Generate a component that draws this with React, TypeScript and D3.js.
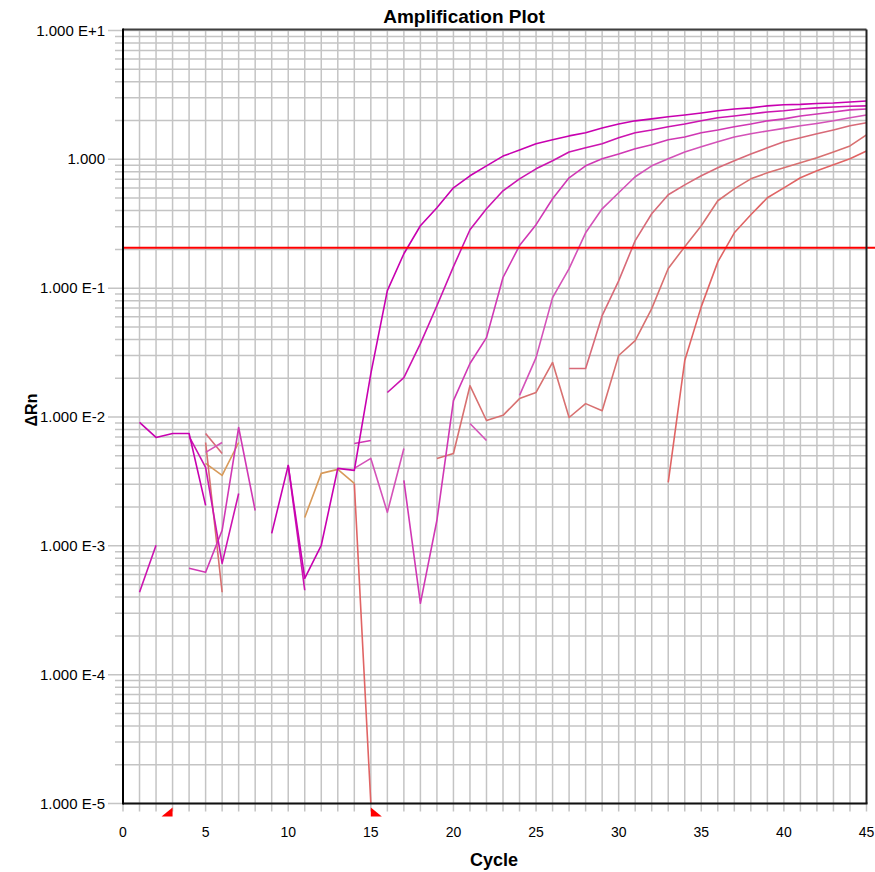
import React from 'react';
import * as d3 from 'd3';

const _ = null;

// cycles 1..45
const cycles: number[] = d3.range(1, 46);

const s1 = [0.00907,0.00694,0.00745,0.00745,0.00206,_,_,_,0.00125,0.00421,
  0.00056,0.00101,0.00399,0.00385,0.0217,0.0956,0.185,0.305,0.421,0.601,
  0.745,0.890,1.06,1.18,1.32,1.42,1.52,1.61,1.75,1.88,
  1.99,2.06,2.14,2.21,2.29,2.38,2.46,2.51,2.60,2.65,
  2.67,2.71,2.74,2.79,2.84];
const s2 = [0.000436,0.00101,_,0.00706,0.00406,0.000731,0.00255,_,_,0.00421,
  0.000452,_,_,_,_,0.0155,0.0202,0.0371,0.0731,0.147,
  0.284,0.413,0.570,0.706,0.844,0.974,1.14,1.23,1.32,1.47,
  1.61,1.69,1.79,1.88,1.99,2.10,2.17,2.25,2.33,2.38,
  2.46,2.51,2.55,2.58,2.60];
const s3 = [_,_,_,0.000669,0.000623,0.00132,0.00829,0.00188,_,_,
  _,_,_,0.00623,0.00657,_,0.00322,0.000358,0.00158,0.0134,
  0.0260,0.0413,0.121,0.214,0.311,0.494,0.719,0.890,1.01,1.10,
  1.21,1.30,1.42,1.49,1.61,1.69,1.79,1.88,1.99,2.06,
  2.17,2.25,2.33,2.42,2.46];
const s4 = [_,_,_,_,0.00531,0.00634,_,_,_,_,
  _,_,_,0.00399,0.00477,0.00182,0.00570,_,_,_,
  0.00891,0.00657,_,0.0147,0.0289,0.0844,0.142,0.269,0.413,0.550,
  0.732,0.890,1.01,1.14,1.25,1.37,1.49,1.58,1.66,1.74,
  1.82,1.90,1.99,2.10,2.21];
const s5 = [_,_,_,_,0.00745,0.00521,_,_,_,_,
  _,_,_,_,_,_,_,_,_,_,
  _,_,_,_,_,_,0.0238,0.0238,0.0612,0.114,
  0.234,0.378,0.531,0.634,0.745,0.859,0.974,1.10,1.23,1.37,
  1.47,1.58,1.69,1.82,1.92];
const s6 = [_,_,_,_,0.00634,0.000436,_,_,_,_,
  _,_,_,_,_,_,_,_,0.00477,0.00521,
  0.0175,0.00939,0.0103,0.0139,0.0155,0.0265,0.00991,0.0127,0.0112,0.0300,
  0.0392,0.0694,0.142,0.210,0.305,0.477,0.590,0.706,0.786,0.859,
  0.939,1.03,1.14,1.27,1.55];
const s7 = [_,_,_,_,_,_,_,_,_,_,
  _,_,_,0.00305,0.00001,_,_,_,_,_,
  _,_,_,_,_,_,_,_,_,_,
  _,_,0.00311,0.0274,0.0719,0.160,0.269,0.371,0.503,0.601,
  0.719,0.815,0.906,1.01,1.16];
const s8 = [_,_,_,_,0.00436,0.00352,0.00634,_,_,_,
  0.00166,0.00365,0.00392,0.00305,_,_,_,_,_,_,
  _,_,_,_,_,_,_,_,_,_,
  _,_,_,_,_,_,_,_,_,_,
  _,_,_,_,_];

const seriesList = [s8, s7, s6, s5, s4, s3, s2, s1];
const seriesColors = ['#d89a5a', '#e06464', '#d87070', '#d86a78', '#d452b8', '#d038b4', '#cc14b0', '#c800b0'];

const threshold = 0.206;
const yTickValues = [1e-5, 1e-4, 1e-3, 1e-2, 1e-1, 1, 10];
const yTickLabels = ['1.000 E-5', '1.000 E-4', '1.000 E-3', '1.000 E-2', '1.000 E-1', '1.000', '1.000 E+1'];
const xTickValues = [0, 5, 10, 15, 20, 25, 30, 35, 40, 45];
const startCycle = 3;
const endCycle = 15;

const FONT = 'Liberation Sans, Arial, Helvetica, sans-serif';

export default function App() {
  const X0 = 123, X1 = 866.5, YT = 30.5, YB = 803.5;
  const x = d3.scaleLinear().domain([0, 45]).range([X0, X1]);
  const y = d3.scaleLog().domain([1e-5, 10]).range([YB, YT]);

  const minorVals: { v: number; major: boolean }[] = [];
  for (let k = -5; k <= 0; k++) {
    for (let m = 1; m <= 9; m++) minorVals.push({ v: m * Math.pow(10, k), major: m === 1 });
  }
  minorVals.push({ v: 10, major: true });

  const line = d3.line<number | null>()
    .defined((d) => d != null)
    .x((_d, i) => x(cycles[i]))
    .y((d) => y(d as number));

  const gridColor = '#c4c4c4';

  return (
    <svg width={875} height={872} style={{ position: 'absolute', left: 0, top: 0, background: '#fff' }}
      xmlns="http://www.w3.org/2000/svg">
      <rect x={0} y={0} width={875} height={872} fill="#ffffff" />
      <defs>
        <clipPath id="plotClip">
          <rect x={X0} y={YT} width={X1 - X0} height={YB - YT} />
        </clipPath>
      </defs>
      {/* vertical grid */}
      {d3.range(1, 45).map((c) => (
        <line key={'vg' + c} x1={x(c)} x2={x(c)} y1={YT} y2={YB + 8} stroke={gridColor} strokeWidth={1.5} />
      ))}
      <line x1={x(0)} x2={x(0)} y1={YB} y2={YB + 8} stroke={gridColor} strokeWidth={1.5} />
      <line x1={x(45)} x2={x(45)} y1={YB} y2={YB + 8} stroke={gridColor} strokeWidth={1.5} />
      {/* horizontal grid */}
      {minorVals.map((d, i) => (
        <line key={'hg' + i} x1={d.major ? X0 - 15 : X0 - 8} x2={X1} y1={y(d.v)} y2={y(d.v)}
          stroke={gridColor} strokeWidth={1.5} />
      ))}
      {/* series */}
      <g clipPath="url(#plotClip)">
        {seriesList.map((s, i) => (
          <path key={'s' + i} d={line(s) || ''} fill="none" stroke={seriesColors[i]} strokeWidth={1.6}
            strokeLinejoin="round" />
        ))}
      </g>
      {/* threshold */}
      <line x1={X0} x2={875} y1={y(threshold)} y2={y(threshold)} stroke="#ff0000" strokeWidth={2} />
      {/* frame */}
      <line x1={X0} x2={X1} y1={YT - 1} y2={YT - 1} stroke="#404040" strokeWidth={2} />
      <line x1={X1} x2={X1} y1={YT - 1} y2={YB} stroke="#202020" strokeWidth={2} />
      <line x1={X0} x2={X1 + 1} y1={YB} y2={YB} stroke="#101010" strokeWidth={2} />
      <line x1={X0} x2={X0} y1={YT - 2} y2={YB + 1} stroke="#000000" strokeWidth={2} />
      {/* start/end markers */}
      <path d={`M${x(startCycle)},${YB + 4} L${x(startCycle)},${YB + 13} L${x(startCycle) - 11},${YB + 13} Z`} fill="#ff0000" />
      <path d={`M${x(endCycle)},${YB + 4} L${x(endCycle)},${YB + 13} L${x(endCycle) + 11},${YB + 13} Z`} fill="#ff0000" />
      {/* y labels */}
      {yTickValues.map((v, i) => (
        <text key={'yl' + i} x={105} y={y(v) + 5} textAnchor="end" fontFamily={FONT} fontSize={15} fill="#000">
          {yTickLabels[i]}
        </text>
      ))}
      {/* x labels */}
      {xTickValues.map((v) => (
        <text key={'xl' + v} x={x(v)} y={837} textAnchor="middle" fontFamily={FONT} fontSize={14} fill="#000">
          {v}
        </text>
      ))}
      <text x={464} y={23} textAnchor="middle" fontFamily={FONT} fontSize={19} fontWeight="bold" fill="#000">
        Amplification Plot
      </text>
      <text x={494} y={866} textAnchor="middle" fontFamily={FONT} fontSize={18} fontWeight="bold" fill="#000">
        Cycle
      </text>
      <text transform="translate(37,410) rotate(-90)" textAnchor="middle" fontFamily={FONT} fontSize={16}
        fontWeight="bold" fill="#000">
        ΔRn
      </text>
    </svg>
  );
}
